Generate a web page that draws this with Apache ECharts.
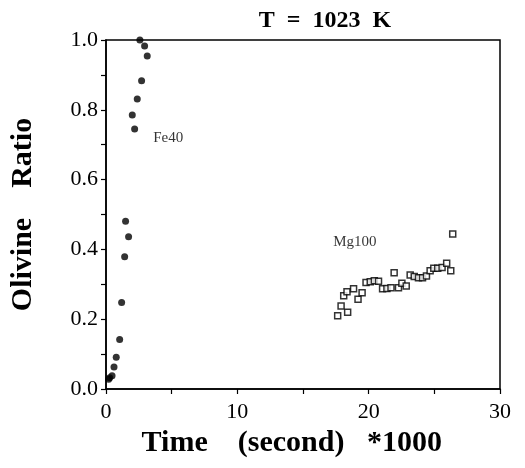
<!DOCTYPE html>
<html><head><meta charset="utf-8">
<script src="https://cdn.jsdelivr.net/npm/echarts@6/dist/echarts.min.js"></script>
<style>html,body{margin:0;padding:0;background:#fff}#c{width:525px;height:468px}</style>
</head><body><div id="c"></div>
<script>
const titleText = 'T  =  1023  K';
const xTitle = 'Time    (second)   *1000   ';
const yTitle = 'Olivine    Ratio';
const fe40Time = [0.2, 0.28, 0.46, 0.61, 0.78, 1.04, 1.19, 1.42, 1.49, 1.72, 2.0, 2.18, 2.38, 2.71, 2.58, 2.94, 3.14];
const fe40Ratio = [0.028, 0.032, 0.038, 0.063, 0.091, 0.142, 0.248, 0.379, 0.481, 0.436, 0.785, 0.745, 0.831, 0.883, 1.0, 0.983, 0.954];
const mg100Time = [17.64, 17.9, 18.4, 18.1, 18.35, 18.85, 19.19, 19.5, 19.8, 20.12, 20.43, 20.75, 21.06, 21.39, 21.7, 21.94, 22.27, 22.53, 22.86, 23.16, 23.47, 23.79, 24.1, 24.4, 24.68, 24.96, 25.26, 25.59, 25.94, 26.25, 26.4];
const mg100Ratio = [0.210, 0.238, 0.220, 0.267, 0.279, 0.287, 0.257, 0.276, 0.305, 0.307, 0.310, 0.309, 0.287, 0.288, 0.290, 0.333, 0.290, 0.303, 0.295, 0.327, 0.322, 0.319, 0.319, 0.324, 0.339, 0.346, 0.346, 0.348, 0.360, 0.339, 0.444];
const xTickLabels = ['0', '10', '20', '30'];
const yTickLabels = ['0.0', '0.2', '0.4', '0.6', '0.8', '1.0'];
const fe40Label = { name: 'Fe40', t: 3.6, r: 0.72 };
const mg100Label = { name: 'Mg100', t: 17.3, r: 0.42 };

const serif = '"Liberation Serif", "DejaVu Serif", serif';
const chart = echarts.init(document.getElementById('c'));
chart.setOption({
  animation: false,
  backgroundColor: '#fff',
  title: { text: titleText, left: 320, top: 4, textAlign: 'center',
    textStyle: { fontFamily: serif, fontSize: 24, fontWeight: 'bold', color: '#000' } },
  grid: { left: 105, top: 40, width: 395, height: 349, show: true, borderColor: '#000', borderWidth: 1.5, backgroundColor: 'transparent' },
  xAxis: { type: 'value', min: 0, max: 30, interval: 5,
    name: xTitle, nameLocation: 'middle', nameGap: 33,
    nameTextStyle: { fontFamily: serif, fontSize: 30, fontWeight: 'bold', color: '#000' },
    axisLine: { lineStyle: { color: '#000', width: 1.5 } },
    axisTick: { show: true, length: 5, inside: false, lineStyle: { color: '#000', width: 1.2 } },
    axisLabel: { fontFamily: serif, fontSize: 22, color: '#000', margin: 12,
      formatter: v => (v % 10 === 0 ? xTickLabels[v / 10] : '') },
    splitLine: { show: false } },
  yAxis: { type: 'value', min: 0, max: 1, interval: 0.1,
    name: yTitle, nameLocation: 'middle', nameGap: 68, nameRotate: 90,
    nameTextStyle: { fontFamily: serif, fontSize: 30, fontWeight: 'bold', color: '#000' },
    axisLine: { lineStyle: { color: '#000', width: 1.5 } },
    axisTick: { show: true, length: 5, inside: false, lineStyle: { color: '#000', width: 1.2 } },
    axisLabel: { fontFamily: serif, fontSize: 22, color: '#000', margin: 8,
      formatter: v => { const i = Math.round(v * 10); return i % 2 === 0 ? yTickLabels[i / 2] : ''; } },
    splitLine: { show: false } },
  series: [
    { type: 'scatter', name: 'Fe40', symbol: 'circle', symbolSize: 7,
      itemStyle: { color: '#000' },
      data: fe40Time.map((t, i) => [t, fe40Ratio[i]]) },
    { type: 'scatter', name: 'Mg100', symbol: 'rect', symbolSize: 6,
      itemStyle: { color: '#fff', borderColor: '#000', borderWidth: 1.5 },
      data: mg100Time.map((t, i) => [t, mg100Ratio[i]]) },
    { type: 'scatter', symbolSize: 0, silent: true,
      label: { show: true, position: 'right', distance: 0, formatter: p => p.data[2],
        fontFamily: serif, fontSize: 15, color: '#000' },
      data: [[fe40Label.t, fe40Label.r, fe40Label.name], [mg100Label.t, mg100Label.r, mg100Label.name]] }
  ]
});
</script></body></html>
